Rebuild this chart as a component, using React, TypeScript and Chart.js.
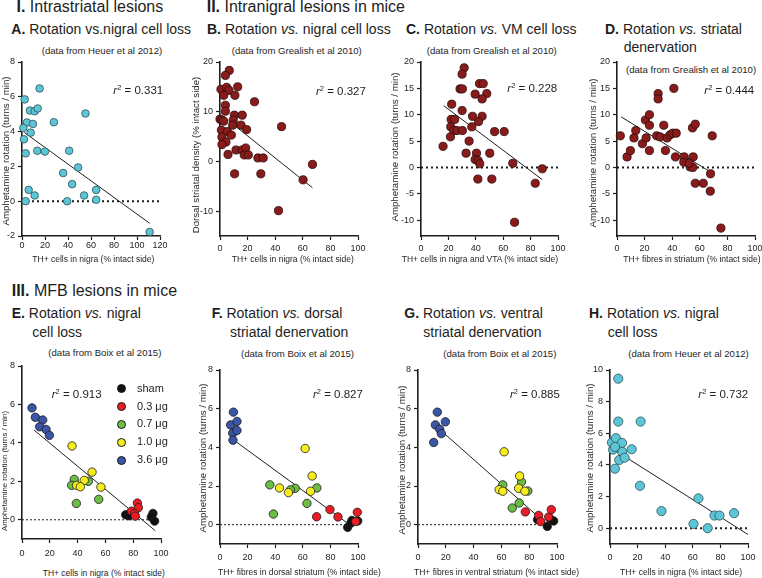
import React, { useEffect, useRef } from "react";
import { Chart, registerables } from "chart.js";

Chart.register(...registerables);

const FONT = '"Liberation Sans", Arial, Helvetica, sans-serif';
const INK = "#1e1e1e";

// ---------------- DATA ----------------
// Panel A (Heuer et al 2012, intrastriatal)
const A_X = [2.3, 15.3, 6.9, 11, 13.6, 55.2, 27.7, 4.3, 9.5, 1.2, 7.5, 1.7, 3.2, 13.3, 19.9, 41, 48.8, 35.8, 43.6, 5.8, 11, 54, 64.5, 64.5, 3.2, 39.3, 111];
const A_Y = [5.85, 6.48, 5.21, 5.17, 5.33, 5.04, 4.54, 4.52, 4.44, 4.21, 3.94, 3.56, 2.75, 2.9, 2.85, 2.9, 1.94, 1.62, 0.98, 0.65, 0.33, 0.33, 0.65, 0.08, 0, 0, -1.77];
const A_FIT_X = [2, 111];
const A_FIT_Y = [3.95, -1.27];
const A_X_TICKS = [0, 20, 40, 60, 80, 100, 120];
const A_Y_TICKS = [-2, 0, 2, 4, 6, 8];

// Panel B
const B_X = [6.7, 3.9, 0.7, 4.8, 6.5, 12.8, 2.7, 10.8, 25, 3.9, 3.9, 0, 1.4, 2.7, 10.4, 16.1, 9.6, 9.2, 15.2, 44.6, 19.3, 1, 5.3, 8.2, 1.4, 4.3, 1.4, 5.8, 11.6, 16.1, 18.6, 17.6, 20.5, 27.5, 31.3, 67, 60.2, 10.6, 29.6, 42.4];
const B_Y = [18.3, 17.3, 14.5, 14.9, 14.3, 15, 13.3, 13.3, 12, 11.3, 10.1, 8.5, 8.3, 8.1, 9.3, 9.3, 8.3, 7.3, 7.3, 7, 6.4, 6.3, 6, 5.3, 4.9, 3.9, 3.4, 1.4, 2.3, 2.3, 2.7, 1.3, 1.3, 0.7, 0.7, -0.6, -3.7, -2.5, -2.5, -9.9];
const B_FIT_X = [8, 67];
const B_FIT_Y = [7.8, -5.3];
const B_Y_TICKS = [-10, 0, 10, 20];

// Panel C
const C_X = [31.5, 30, 28.5, 30.2, 42.7, 45.4, 39.5, 48, 44.6, 22.4, 30, 37.6, 44.6, 22, 24.6, 21.7, 37.1, 42, 23.9, 26.3, 30.2, 21.5, 53.7, 60.7, 16.1, 35.1, 32.9, 40.5, 50.2, 39.5, 41.7, 42.9, 67, 88.5, 83.4, 41.5, 51.7, 68.3];
const C_Y = [18.9, 17.7, 14.9, 14.9, 15.9, 15.9, 13.9, 14, 13, 12, 10.8, 9.7, 9.7, 9.1, 9.1, 7.7, 7.7, 8.7, 7, 7, 7, 5.8, 6.8, 6.8, 4, 5, 2.7, 2.7, 2.7, 1.5, 1.3, 0.7, 0.8, -0.25, -3, -2.2, -2.2, -10.4];
const C_FIT_X = [16.6, 88.5];
const C_FIT_Y = [11.7, -2.3];

// Panel D
const D_X = [2.4, 7.3, 9.7, 13.6, 12.3, 18.4, 21.1, 23.5, 20.6, 23.5, 23.5, 29.8, 29.8, 28.8, 31.2, 33.9, 35.1, 36.3, 38.5, 40.4, 42.9, 41.2, 42.4, 48.7, 48.4, 53, 55.2, 55, 54.7, 56.7, 56.7, 62.5, 67.8, 67.6, 69, 75.3, 52.3];
const D_Y = [6, 2, 3.2, 7, 5.6, 4.5, 5.6, 3.2, 9, 10, 8, 14, 13, 6, 5.8, 8, 3.2, 5.6, 6.2, 6.5, 6.5, 15, 2, 2, 1, 0.1, 2, 0, 7.5, 8.2, -3, -3, -1.2, -4.5, 6, -11.5, 0.8];
const D_FIT_X = [3, 68.3];
const D_FIT_Y = [9.6, -0.95];
const CD_Y_TICKS = [-10, -5, 0, 5, 10, 15, 20];

const X_TICKS_100 = [0, 20, 40, 60, 80, 100];
const Y_TICKS_8 = [0, 2, 4, 6, 8];
const Y_TICKS_10 = [0, 2, 4, 6, 8, 10];

// Dose groups (Boix et al 2015)
const DOSES = ["sham", "0.3 μg", "0.7 μg", "1.0 μg", "3.6 μg"];

// Panel E
const E_X = [
  [74.6, 77, 94.2, 93, 95.4],
  [83, 83.7, 78.7, 81, 81.5],
  [37.6, 35.7, 47.7, 55.2, 39.1],
  [36, 50.4, 44.8, 39.3, 42, 56.8],
  [7.2, 9.6, 14.9, 12.7, 17.3, 19.7],
];
const E_Y = [
  [0.26, 0.21, 0.33, 0.14, -0.07],
  [0.87, 0.63, 0.45, 0.33, 0.19],
  [2.1, 1.79, 2.0, 1.06, 0.85],
  [3.84, 2.48, 2.05, 1.79, 1.72, 1.7],
  [5.82, 5.33, 5.19, 4.84, 4.7, 4.39],
];
const E_FIT_X = [8.6, 95.9];
const E_FIT_Y = [4.67, -0.57];

// Panel F
const F_X = [
  [92.5, 95.6, 99.8, 94.9],
  [79.7, 70, 85.5, 99.5, 98.3],
  [36.1, 54.5, 70.2, 51, 63, 38.7],
  [61.7, 66.8, 43.1, 49.6, 65.6],
  [9.7, 7.7, 12.3, 9.2, 12.3, 9.4],
];
const F_Y = [
  [-0.14, 0.22, 0.19, 0.09],
  [0.78, 0.41, 0.4, 0.64, 0.16],
  [2.06, 1.88, 1.9, 1.8, 1.1, 0.55],
  [3.94, 2.52, 1.9, 1.66, 1.73],
  [5.82, 5.16, 5.34, 4.73, 4.87, 4.37],
];
const F_FIT_X = [9.5, 93.5];
const F_FIT_Y = [4.4, 0.02];

// Panel G
const G_X = [
  [86, 93, 97.6, 95],
  [77.2, 86.8, 88.2, 94, 95.9],
  [61, 74.5, 79, 72.8, 67.8],
  [62, 73.1, 58.4, 61, 72.4, 76.9],
  [13.9, 12.5, 19.7, 15.6, 16.8, 11.3],
];
const G_Y = [
  [0.26, -0.09, 0.19, 0.31],
  [0.66, 0.48, 0.16, 0.4, 0.78],
  [2.06, 2.21, 1.74, 1.12, 0.86],
  [3.77, 2.52, 1.81, 1.73, 1.88, 1.73],
  [5.82, 5.16, 5.32, 4.94, 4.71, 4.25],
];
const G_FIT_X = [16, 93];
const G_FIT_Y = [4.9, 0];

// Panel H (Heuer et al 2012, MFB)
const H_X = [6, 6, 22.2, 1.4, 4.3, 8.7, 2.2, 3.6, 8.9, 15.7, 6.7, 10.6, 3.6, 21.7, 37.3, 64.1, 75.7, 79.3, 89.9, 60.5, 70.8];
const H_Y = [9.45, 6.74, 6.74, 5.41, 5.69, 5.39, 4.97, 5.14, 4.82, 4.99, 4.31, 4.46, 3.76, 2.68, 1.08, 1.88, 0.8, 0.8, 0.95, 0.27, 0];
const H_FIT_X = [3.4, 100];
const H_FIT_Y = [4.93, -0.4];

// ---------------- STYLE ----------------
const CYAN = "#5cc6d7";
const CYAN_EDGE = "#2f4f58";
const MAROON = "#8a1b1b";
const MAROON_EDGE = "#2a0a0a";
const DOSE_COLORS = ["#111111", "#ec1c24", "#6cbd45", "#f5ec1e", "#3a56a5"];

type Group = { xs: number[]; ys: number[]; fill: string; edge: string; r: number };
type Cfg = {
  box: [number, number, number, number];
  xr: [number, number];
  yr: [number, number];
  xt: number[];
  yt: number[];
  groups: Group[];
  fit: [number[], number[]];
  zero?: [number, number];
  thick?: boolean;
  xPad: number;
};

function Plot({ c }: { c: Cfg }) {
  const ref = useRef<HTMLCanvasElement | null>(null);
  const PL = 34, PR = 16, PT = 12, PB = 24;
  const left = Math.round(c.box[0]);
  const top = Math.round(c.box[1]);
  const w = Math.round(c.box[2] - c.box[0]);
  const h = Math.round(c.box[3] - c.box[1]);
  const W = w + PL + PR;
  const H = h + PT + PB;

  useEffect(() => {
    if (!ref.current) return;
    const n = c.groups.length;
    const datasets: any[] = c.groups.map((g, i) => ({
      type: "scatter",
      data: g.xs.map((x, k) => ({ x, y: g.ys[k] })),
      backgroundColor: g.fill,
      borderColor: g.edge,
      borderWidth: 0.8,
      pointRadius: g.r,
      pointHoverRadius: g.r,
      clip: false,
      order: n - i,
    }));
    datasets.push({
      type: "line",
      data: [
        { x: c.fit[0][0], y: c.fit[1][0] },
        { x: c.fit[0][1], y: c.fit[1][1] },
      ],
      borderColor: INK,
      borderWidth: 1,
      pointRadius: 0,
      fill: false,
      clip: false,
      order: 20,
    });
    if (c.zero) {
      datasets.push({
        type: "line",
        data: [
          { x: c.zero[0], y: 0 },
          { x: c.zero[1], y: 0 },
        ],
        borderColor: INK,
        borderWidth: c.thick ? 2 : 1,
        borderDash: c.thick ? [2, 3] : [2, 2],
        pointRadius: 0,
        fill: false,
        clip: false,
        order: 21,
      });
    }
    const axis = (isX: boolean) => ({
      type: "linear",
      min: isX ? c.xr[0] : c.yr[0],
      max: isX ? c.xr[1] : c.yr[1],
      afterFit: (s: any) => {
        if (isX) s.height = PB;
        else s.width = PL;
      },
      afterBuildTicks: (s: any) => {
        s.ticks = (isX ? c.xt : c.yt).map((v) => ({ value: v }));
      },
      grid: {
        drawOnChartArea: false,
        drawTicks: true,
        tickLength: 4,
        tickColor: INK,
        tickWidth: 1.2,
      },
      border: { display: true, color: INK, width: 1.6 },
      ticks: {
        color: INK,
        font: { family: FONT, size: 9 },
        padding: isX ? c.xPad : 3,
        autoSkip: false,
        maxRotation: 0,
        minRotation: 0,
      },
    });
    const chart = new Chart(ref.current, {
      type: "scatter",
      data: { datasets },
      options: {
        animation: false,
        responsive: false,
        maintainAspectRatio: false,
        events: [],
        layout: { padding: { left: 0, right: PR, top: PT, bottom: 0 } },
        plugins: { legend: { display: false }, tooltip: { enabled: false }, title: { display: false } },
        scales: { x: axis(true) as any, y: axis(false) as any },
      },
    } as any);
    return () => chart.destroy();
  }, []);

  return (
    <canvas
      ref={ref}
      width={W}
      height={H}
      style={{ position: "absolute", left: left - PL, top: top - PT, width: W, height: H }}
    />
  );
}

function Txt({ x, y, s, mode = "b", children, style }: any) {
  const top = mode === "b" ? y - 0.8465 * s : y - 0.53 * s;
  return (
    <div
      style={{
        position: "absolute",
        left: x,
        top,
        fontSize: s,
        lineHeight: `${s}px`,
        fontFamily: FONT,
        whiteSpace: "nowrap",
        color: INK,
        ...style,
      }}
    >
      {children}
    </div>
  );
}

function YTitle({ x, y, s = 9.7, children }: any) {
  return (
    <div
      style={{
        position: "absolute",
        left: x,
        top: y,
        fontSize: s,
        lineHeight: `${s}px`,
        fontFamily: FONT,
        whiteSpace: "nowrap",
        color: INK,
        transform: "translate(-50%, -50%) rotate(-90deg)",
      }}
    >
      {children}
    </div>
  );
}

function R2({ x, y, v }: any) {
  return (
    <Txt x={x} y={y} s={11.5} mode="c">
      <i>r</i>
      <span style={{ fontSize: "0.65em", position: "relative", top: "-0.5em" }}>2</span> = {v}
    </Txt>
  );
}

const single = (xs: number[], ys: number[], fill: string, edge: string, r: number): Group[] => [
  { xs, ys, fill, edge, r },
];
const doses = (X: number[][], Y: number[][], r: number): Group[] =>
  X.map((xs, i) => ({ xs, ys: Y[i], fill: DOSE_COLORS[i], edge: "#1a1a1a", r }));

const PANELS: Cfg[] = [
  {
    box: [22.3, 62.3, 160.7, 236],
    xr: [0, 120], yr: [-2, 8], xt: A_X_TICKS, yt: A_Y_TICKS,
    groups: single(A_X, A_Y, CYAN, CYAN_EDGE, 3.8),
    fit: [A_FIT_X, A_FIT_Y], zero: [0, 120], thick: true, xPad: 0,
  },
  {
    box: [220, 62.3, 358, 236.7],
    xr: [0, 100], yr: [-15, 20], xt: X_TICKS_100, yt: B_Y_TICKS,
    groups: single(B_X, B_Y, MAROON, MAROON_EDGE, 4.1),
    fit: [B_FIT_X, B_FIT_Y], xPad: 3,
  },
  {
    box: [420.7, 62.3, 557.4, 236.5],
    xr: [0, 100], yr: [-13, 20], xt: X_TICKS_100, yt: CD_Y_TICKS,
    groups: single(C_X, C_Y, MAROON, MAROON_EDGE, 4.1),
    fit: [C_FIT_X, C_FIT_Y], zero: [0, 100], thick: true, xPad: 3,
  },
  {
    box: [617, 62.3, 754.7, 236.5],
    xr: [0, 100], yr: [-13, 20], xt: X_TICKS_100, yt: CD_Y_TICKS,
    groups: single(D_X, D_Y, MAROON, MAROON_EDGE, 4.1),
    fit: [D_FIT_X, D_FIT_Y], zero: [0, 100], thick: true, xPad: 3,
  },
  {
    box: [22.3, 366, 161.3, 538.9],
    xr: [0, 100], yr: [-1, 8], xt: X_TICKS_100, yt: Y_TICKS_8,
    groups: doses(E_X, E_Y, 4.2),
    fit: [E_FIT_X, E_FIT_Y], zero: [0, 92], thick: false, xPad: 5,
  },
  {
    box: [220, 370, 357.7, 543.6],
    xr: [0, 100], yr: [-1, 8], xt: X_TICKS_100, yt: Y_TICKS_8,
    groups: doses(F_X, F_Y, 4.2),
    fit: [F_FIT_X, F_FIT_Y], zero: [0, 92], thick: false, xPad: 4.5,
  },
  {
    box: [418.3, 370, 557, 543.6],
    xr: [0, 100], yr: [-1, 8], xt: X_TICKS_100, yt: Y_TICKS_8,
    groups: doses(G_X, G_Y, 4.2),
    fit: [G_FIT_X, G_FIT_Y], zero: [0, 92], thick: false, xPad: 4.5,
  },
  {
    box: [609.7, 370, 748, 543.5],
    xr: [0, 100], yr: [-1, 10], xt: X_TICKS_100, yt: Y_TICKS_10,
    groups: single(H_X, H_Y, CYAN, CYAN_EDGE, 4.6),
    fit: [H_FIT_X, H_FIT_Y], zero: [0, 100], thick: true, xPad: 4.5,
  },
];

const ROT = "Amphetamine rotation (turns / min)";
const NIGRA = "TH+ cells in nigra (% intact side)";

export default function App() {
  return (
    <div
      style={{
        position: "absolute",
        left: 0,
        top: 0,
        width: 762,
        height: 578,
        background: "#fff",
        overflow: "hidden",
        fontFamily: FONT,
      }}
    >
      {/* section headings */}
      <Txt x={16.5} y={12.5} s={16}><b>I.</b> Intrastriatal lesions</Txt>
      <Txt x={206.7} y={12.5} s={16}><b>II.</b> Intranigral lesions in mice</Txt>
      <Txt x={11.7} y={296.7} s={16}><b>III.</b> MFB lesions in mice</Txt>

      {/* panel titles */}
      <Txt x={11.3} y={34} s={14}><b>A.</b> Rotation vs.nigral cell loss</Txt>
      <Txt x={207} y={34} s={14}><b>B.</b> Rotation <i>vs.</i> nigral cell loss</Txt>
      <Txt x={406} y={34} s={14}><b>C.</b> Rotation <i>vs.</i> VM cell loss</Txt>
      <Txt x={605} y={34} s={14}><b>D.</b> Rotation <i>vs.</i> striatal</Txt>
      <Txt x={623.7} y={51.7} s={14}>denervation</Txt>

      <Txt x={11.7} y={318} s={14}><b>E.</b> Rotation <i>vs.</i> nigral</Txt>
      <Txt x={32.3} y={337.3} s={14}>cell loss</Txt>
      <Txt x={211.7} y={318} s={14}><b>F.</b> Rotation <i>vs.</i> dorsal</Txt>
      <Txt x={230} y={337.3} s={14}>striatal denervation</Txt>
      <Txt x={404.3} y={318} s={14}><b>G.</b> Rotation <i>vs.</i> ventral</Txt>
      <Txt x={423.3} y={337.3} s={14}>striatal denervation</Txt>
      <Txt x={589} y={318} s={14}><b>H.</b> Rotation <i>vs.</i> nigral</Txt>
      <Txt x={607.7} y={337.3} s={14}>cell loss</Txt>

      {/* sources */}
      <Txt x={41.7} y={50.7} s={9.6} mode="c">(data from Heuer et al 2012)</Txt>
      <Txt x={231.7} y={50.7} s={9.6} mode="c">(data from Grealish et al 2010)</Txt>
      <Txt x={426.7} y={50.7} s={9.6} mode="c">(data from Grealish et al 2010)</Txt>
      <Txt x={626} y={70} s={9.6} mode="c">(data from Grealish et al 2010)</Txt>
      <Txt x={48.3} y={353.3} s={9.6} mode="c">(data from Boix et al 2015)</Txt>
      <Txt x={241} y={354} s={9.6} mode="c">(data from Boix et al 2015)</Txt>
      <Txt x={443.3} y={354} s={9.6} mode="c">(data from Boix et al 2015)</Txt>
      <Txt x={628.3} y={354} s={9.6} mode="c">(data from Heuer et al 2012)</Txt>

      {/* charts */}
      {PANELS.map((c, i) => (
        <Plot key={i} c={c} />
      ))}

      {/* r squared */}
      <R2 x={113.3} y={90.7} v="0.331" />
      <R2 x={316} y={91.7} v="0.327" />
      <R2 x={507.3} y={89} v="0.228" />
      <R2 x={704.3} y={91} v="0.444" />
      <R2 x={51.7} y={395} v="0.913" />
      <R2 x={313} y={395} v="0.827" />
      <R2 x={510} y={395} v="0.885" />
      <R2 x={698.3} y={395} v="0.732" />

      {/* legend in E */}
      {DOSES.map((d, i) => (
        <React.Fragment key={d}>
          <div
            style={{
              position: "absolute",
              left: 121.7 - 4.5,
              top: 388.5 + i * 17.9 - 4.5,
              width: 9,
              height: 9,
              borderRadius: "50%",
              background: DOSE_COLORS[i],
              boxSizing: "border-box",
              border: "0.8px solid #1a1a1a",
            }}
          />
          <Txt x={137} y={388.5 + i * 17.9} s={11} mode="c">{d}</Txt>
        </React.Fragment>
      ))}

      {/* x titles */}
      <Txt x={32.3} y={259.3} s={8.5} mode="c">{NIGRA}</Txt>
      <Txt x={231.7} y={259.3} s={8.5} mode="c">{NIGRA}</Txt>
      <Txt x={401.7} y={259.3} s={8.5} mode="c">TH+ cells in nigra and VTA (% intact side)</Txt>
      <Txt x={623.3} y={259.3} s={8.5} mode="c">TH+ fibres in striatum (% intact side)</Txt>
      <Txt x={42.7} y={573.3} s={8.5} mode="c">{NIGRA}</Txt>
      <Txt x={218} y={573} s={8.5} mode="c">TH+ fibres in dorsal striatum (% intact side)</Txt>
      <Txt x={414} y={573} s={8.5} mode="c">TH+ fibres in ventral striatum (% intact side)</Txt>
      <Txt x={620} y={573} s={8.5} mode="c">{NIGRA}</Txt>

      {/* y titles */}
      <YTitle x={5.7} y={150.7}>{ROT}</YTitle>
      <YTitle x={196} y={154.5}>Dorsal striatal density (% intact side)</YTitle>
      <YTitle x={395} y={146.7}>{ROT}</YTitle>
      <YTitle x={593.3} y={153}>{ROT}</YTitle>
      <YTitle x={5} y={470.8} s={7.8}>{ROT}</YTitle>
      <YTitle x={203.3} y={458}>{ROT}</YTitle>
      <YTitle x={401.7} y={460}>{ROT}</YTitle>
      <YTitle x={590} y={458}>{ROT}</YTitle>
    </div>
  );
}
